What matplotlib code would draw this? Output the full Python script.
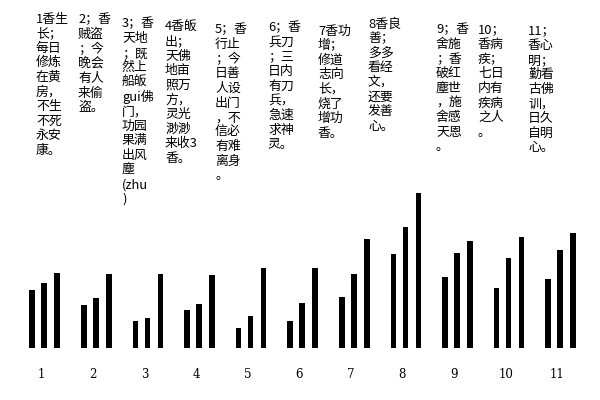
import numpy as np
import matplotlib
matplotlib.use("Agg")
import matplotlib.pyplot as plt

plt.rcParams['font.family'] = ['Noto Sans CJK SC', 'DejaVu Sans']

# incense patterns 1..11, three sticks each (heights)
labels = ['1', '2', '3', '4', '5', '6', '7', '8', '9', '10', '11']
left = [58, 43, 27, 38, 20, 27, 51, 94, 71, 60, 69]
middle = [65, 50, 30, 44, 32, 45, 74, 121, 95, 90, 98]
right = [75, 74, 74, 73, 80, 80, 109, 155, 107, 111, 115]

# the notes above each group, row by row as printed
notes = [
    ['1香生', '长；', '每日', '修炼', '在黄', '房，', '不生', '不死', '永安', '康。'],
    ['2；香', '贼盗', '；今', '晚会', '有人', '来偷', '盗。'],
    ['3；香', '天地', '；既', '然上', '船皈', 'gui佛', '门，', '功园', '果满', '出风',
     '塵', '(zhu', ')'],
    ['4香皈', '出；', '天佛', '地亩', '照万', '方，', '灵光', '渺渺', '来收3', '香。'],
    ['5；香', '行止', '；今', '日善', '人设', '出门', '，不', '信必', '有难', '离身', '。'],
    ['6；香', '兵刀', '；三', '日内', '有刀', '兵，', '急速', '求神', '灵。'],
    ['7香功', '增；', '修道', '志向', '长，', '烧了', '增功', '香。'],
    ['8香良', '善；', '多多', '看经', '文，', '还要', '发善', '心。'],
    ['9；香', '舍施', '；香', '破红', '塵世', '，施', '舍感', '天恩', '。'],
    ['10；', '香病', '疾；', '七日', '内有', '疾病', '之人', '。'],
    ['11；', '香心', '明；', '勤看', '古佛', '训，', '日久', '自明', '心。'],
]

# layout of the note blocks (pixels from top-left)
note_x = [36, 78, 122, 165, 215, 268, 318, 368, 436, 478, 528]
note_y = [19, 20, 24, 27, 30, 28, 31, 24, 30, 30, 31]
row_h = 14.6

fig = plt.figure(figsize=(6, 4), dpi=100)
fig.patch.set_facecolor('white')
ax = fig.add_axes([0, 0, 1, 1])
ax.axis('off')

step = 51.6
ax.set_xlim(-44.2 / step, (600 - 44.2) / step)
ax.set_ylim(-52, 348)

x = np.arange(len(labels))
w = 5.5 / step
ax.bar(x - 12 / step, left, width=w, color='black')
ax.bar(x, middle, width=w, color='black')
ax.bar(x + 13 / step, right, width=w, color='black')

for i, lab in enumerate(labels):
    ax.text(x[i] - 3 / step, -26, lab, ha='center', va='center',
            family='DejaVu Serif', fontsize=8.5)

for rows, nx, ny in zip(notes, note_x, note_y):
    for j, r in enumerate(rows):
        fig.text(nx / 600, 1 - (ny + j * row_h) / 400, r, ha='left', va='center',
                 fontsize=9.3, color='black')

fig.savefig('out.png', dpi=100, facecolor='white')
